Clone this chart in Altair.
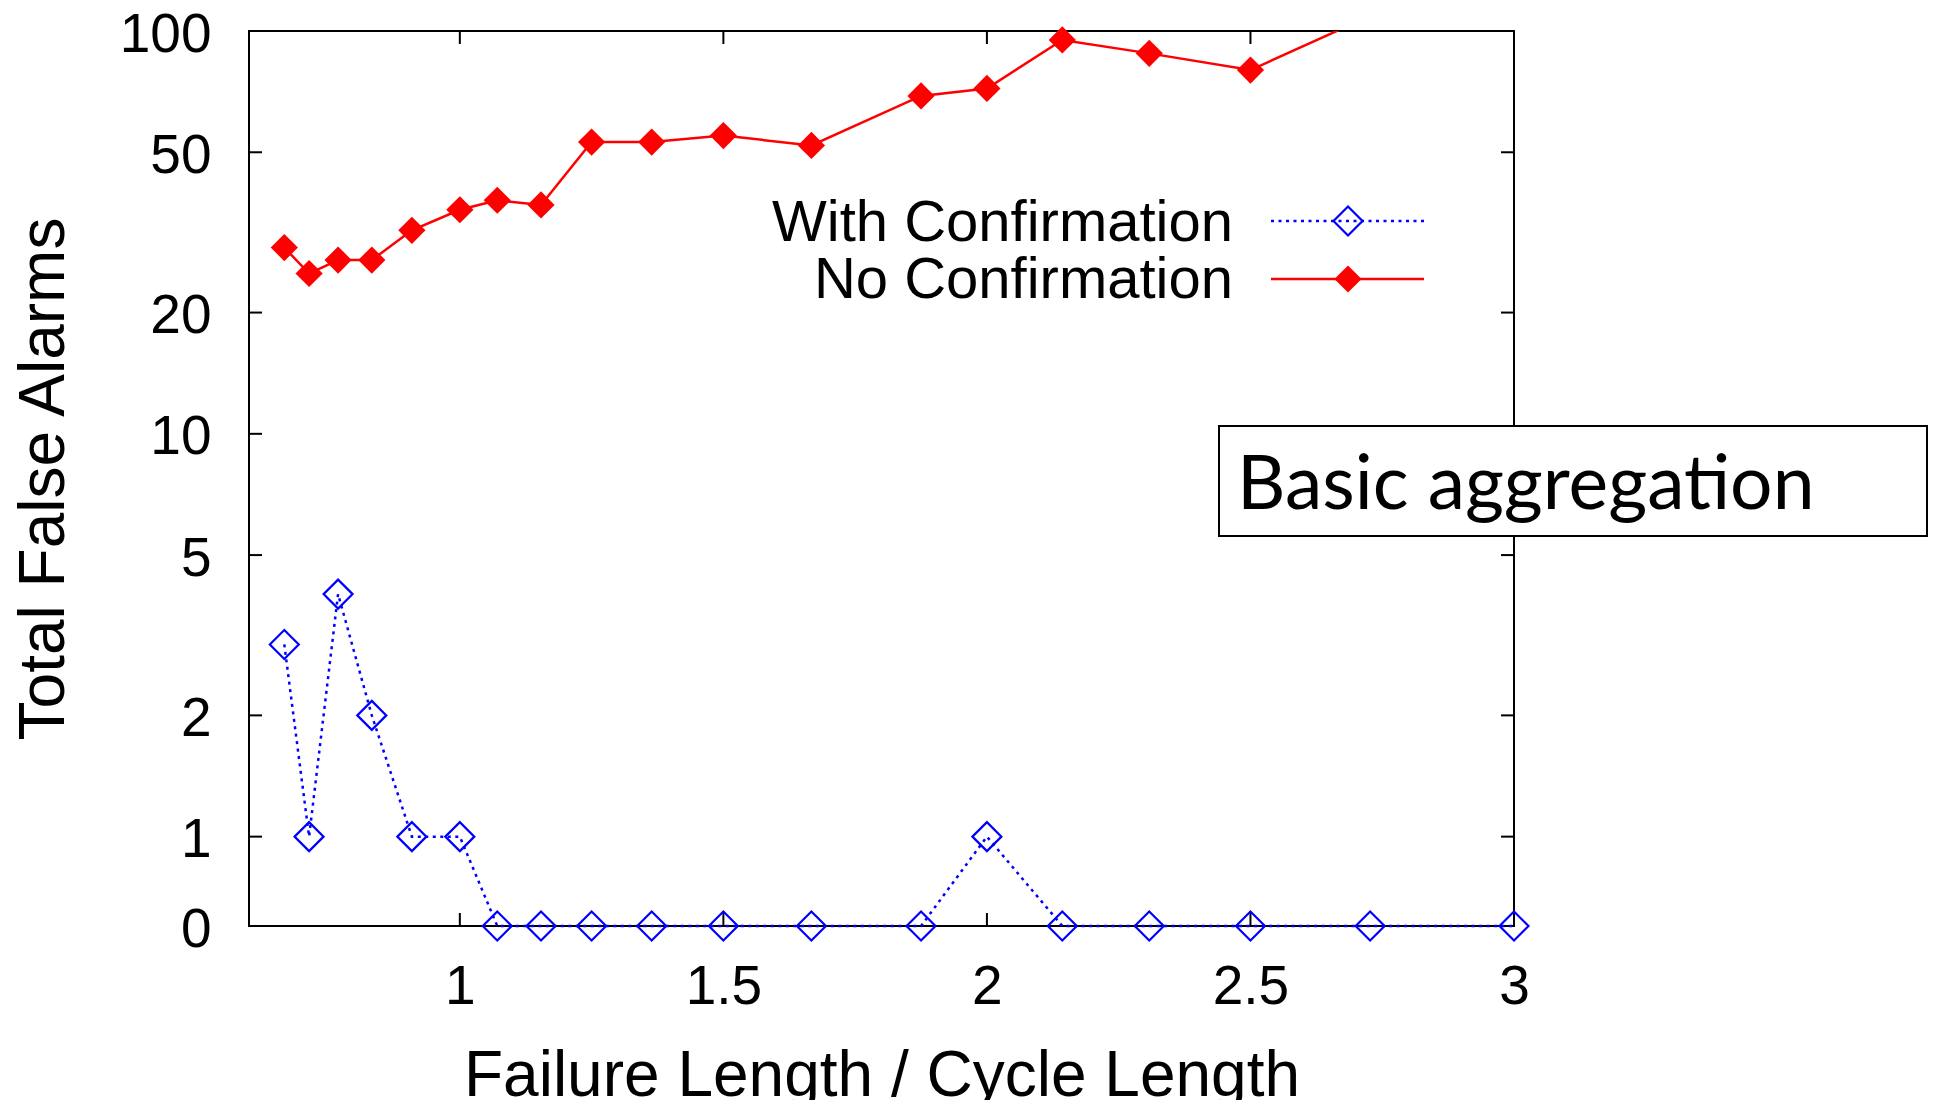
import altair as alt
import pandas as pd

# ---- data ----
ratio = [0.667, 0.714, 0.769, 0.833, 0.909, 1.0, 1.071, 1.154, 1.25, 1.364,
         1.5, 1.667, 1.875, 2.0, 2.143, 2.308, 2.5, 2.727, 3.0]
with_conf = [3, 1, 4, 2, 1, 1, 0, 0, 0, 0, 0, 0, 0, 1, 0, 0, 0, 0, 0]
no_conf = [29, 25, 27, 27, 32, 36, 38, 37, 53, 53, 55, 52, 69, 72, 95, 88, 80, 109, 118]
series_names = ["With Confirmation", "No Confirmation"]
x_ticks = [1, 1.5, 2, 2.5, 3]
y_ticks = [1, 2, 5, 10, 20, 50, 100]
y_floor = 0.6          # where the "0" row sits on the log axis
x_domain = [0.6, 3]
y_domain = [0.6, 100]
x_title = "Failure Length / Cycle Length"
y_title = "Total False Alarms"
box_label = "Basic aggregation"

W, H = 1265, 895
FONT = "Liberation Sans"
RED = "#ff0000"
BLUE = "#0000ff"

df = pd.DataFrame({
    "ratio": ratio * 2,
    "alarms": with_conf + no_conf,
    "series": [series_names[0]] * len(ratio) + [series_names[1]] * len(ratio),
})

x_enc = alt.X(
    "ratio:Q",
    scale=alt.Scale(domain=x_domain, nice=False, zero=False),
    axis=alt.Axis(
        values=x_ticks, format="~g", title=x_title, ticks=False, tickSize=0,
        domain=False, grid=False, labelFont=FONT, labelFontSize=55,
        labelColor="black", labelPadding=77, labelBaseline="alphabetic",
        labelFlush=False, labelOverlap=False,
        titleFont=FONT, titleFontSize=64, titleFontWeight="normal",
        titleColor="black", titleX=W / 2, titleY=169,
        titleBaseline="alphabetic", titleAlign="center",
    ),
)
y_enc = alt.Y(
    "yplot:Q",
    scale=alt.Scale(type="log", domain=y_domain, nice=False),
    axis=alt.Axis(
        values=[y_floor] + y_ticks,
        labelExpr="datum.value < 0.9 ? '0' : format(datum.value, 'd')",
        title=y_title, ticks=False, tickSize=0, domain=False, grid=False,
        labelFont=FONT, labelFontSize=55, labelColor="black",
        labelPadding=38, labelBaseline="alphabetic", labelOffset=20,
        labelFlush=False, labelOverlap=False,
        titleFont=FONT, titleFontSize=64, titleFontWeight="normal",
        titleColor="black", titleX=-186, titleY=H / 2, titleAngle=270,
        titleBaseline="alphabetic", titleAlign="center",
    ),
)

base = alt.Chart(df).transform_calculate(
    yplot=f"datum.alarms <= 0 ? {y_floor} : datum.alarms"
)
blue = base.transform_filter(alt.datum.series == series_names[0])
red = base.transform_filter(alt.datum.series == series_names[1])

blue_line = blue.mark_line(color=BLUE, strokeWidth=2.5, strokeDash=[3, 4.5]).encode(x=x_enc, y=y_enc)
blue_pts = blue.mark_point(shape="diamond", size=840, strokeWidth=2.2, color=BLUE,
                           filled=False, opacity=1).encode(x=x_enc, y=y_enc)
red_line = red.mark_line(color=RED, strokeWidth=2.5, clip=True).encode(x=x_enc, y=y_enc)
red_pts = red.transform_filter(alt.datum.yplot <= 100).mark_point(
    shape="diamond", size=740, color=RED, filled=True, opacity=1).encode(x=x_enc, y=y_enc)

# mirrored inward ticks (gnuplot style)
ytick_df = pd.DataFrame({"yplot": y_ticks})
xtick_df = pd.DataFrame({"ratio": x_ticks})
TL = 13
ytl = alt.Chart(ytick_df).mark_rule(color="black", strokeWidth=2).encode(y=y_enc, x=alt.value(0), x2=alt.value(TL))
ytr = alt.Chart(ytick_df).mark_rule(color="black", strokeWidth=2).encode(y=y_enc, x=alt.value(W - TL), x2=alt.value(W))
xtb = alt.Chart(xtick_df).mark_rule(color="black", strokeWidth=2).encode(x=x_enc, y=alt.value(H - TL), y2=alt.value(H))
xtt = alt.Chart(xtick_df).mark_rule(color="black", strokeWidth=2).encode(x=x_enc, y=alt.value(0), y2=alt.value(TL))

# in-plot key: label on the left, sample on the right
one = pd.DataFrame({"k": [0]})
key_t1 = alt.Chart(one).mark_text(text=series_names[0], align="right", baseline="alphabetic",
                                  font=FONT, fontSize=58, color="black").encode(x=alt.value(984), y=alt.value(210))
key_t2 = alt.Chart(one).mark_text(text=series_names[1], align="right", baseline="alphabetic",
                                  font=FONT, fontSize=58, color="black").encode(x=alt.value(984), y=alt.value(267))
key_l1 = alt.Chart(one).mark_rule(color=BLUE, strokeWidth=2.5, strokeDash=[3, 4.5]).encode(
    x=alt.value(1022), x2=alt.value(1175), y=alt.value(190))
key_l2 = alt.Chart(one).mark_rule(color=RED, strokeWidth=2.5).encode(
    x=alt.value(1022), x2=alt.value(1175), y=alt.value(248))
key_p1 = alt.Chart(one).mark_point(shape="diamond", size=840, strokeWidth=2.2, color=BLUE,
                                   filled=False, opacity=1).encode(x=alt.value(1099), y=alt.value(190))
key_p2 = alt.Chart(one).mark_point(shape="diamond", size=740, color=RED, filled=True,
                                   opacity=1).encode(x=alt.value(1099), y=alt.value(248))

# annotation box
box = alt.Chart(one).mark_rect(fill="white", stroke="black", strokeWidth=2).encode(
    x=alt.value(970), x2=alt.value(1678), y=alt.value(395), y2=alt.value(505))
box_text = alt.Chart(one).mark_text(text=box_label, align="left", baseline="alphabetic",
                                    font="Lato", fontSize=75, color="black").encode(
    x=alt.value(988), y=alt.value(478))

chart = alt.layer(
    ytl, ytr, xtb, xtt,
    blue_line, blue_pts, red_line, red_pts,
    key_l1, key_l2, key_p1, key_p2, key_t1, key_t2,
    box, box_text,
).properties(
    width=W, height=H,
    autosize=alt.AutoSizeParams(type="none"),
    padding={"left": 241, "top": 23, "right": 415, "bottom": 174},
    background="white",
).configure_view(stroke="black", strokeWidth=2)

chart.save("out.html", embed_options={"renderer": "svg", "actions": False})
